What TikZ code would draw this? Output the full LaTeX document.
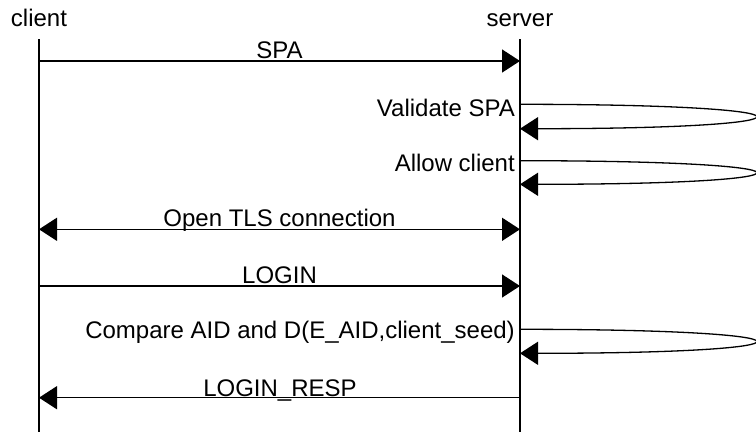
\documentclass[tikz,border=0pt]{standalone}
\usepackage{fontspec}
\setmainfont{Liberation Sans}
\usetikzlibrary{arrows.meta}
\tikzset{
  lbl/.style={inner sep=0pt, font=\fontsize{24}{28}\selectfont},
  lifeline/.style={line width=1.8pt},
  msg/.style={line width=1.5pt, -{Triangle[length=18pt,width=23pt]}},
  msgboth/.style={line width=1.5pt, {Triangle[length=18pt,width=23pt]}-{Triangle[length=18pt,width=23pt]}},
  selfmsg/.style={line width=1.3pt, -{Triangle[length=18pt,width=23pt]}},
}
\begin{document}
\begin{tikzpicture}[x=1pt,y=-1pt]
\useasboundingbox (0,0) rectangle (756,432);
\def\cx{39}
\def\sx{520}

% participants
\node[lbl, anchor=base] (client) at (\cx,26) {client};
\node[lbl, anchor=base] (server) at (\sx,26) {server};
\coordinate (ctop) at (\cx,39);
\coordinate (cbot) at (\cx,432);
\coordinate (stop) at (\sx,39);
\coordinate (sbot) at (\sx,432);
\draw[lifeline] (ctop) -- (cbot);
\draw[lifeline] (stop) -- (sbot);

% SPA
\coordinate (c1) at (\cx,61);
\coordinate (s1) at (\sx,61);
\draw[msg] (c1) -- (s1);
\node[lbl, anchor=base] (spa) at (279.5,58) {SPA};

% Validate SPA
\coordinate (v1) at (\sx,104.3);
\coordinate (v2) at (\sx,128.7);
\draw[selfmsg] (v1) .. controls (833,104.3) and (833,128.7) .. (v2);
\node[lbl, anchor=base east] (validate) at (515,116) {Validate SPA};

% Allow client
\coordinate (a1) at (\sx,160.7);
\coordinate (a2) at (\sx,184.3);
\draw[selfmsg] (a1) .. controls (833,160.7) and (833,184.3) .. (a2);
\node[lbl, anchor=base east] (allow) at (515,171.7) {Allow client};

% Open TLS connection
\coordinate (c2) at (\cx,229.3);
\coordinate (s2) at (\sx,229.3);
\draw[msgboth] (c2) -- (s2);
\node[lbl, anchor=base] (tls) at (279.5,226.5) {Open TLS connection};

% LOGIN
\coordinate (c3) at (\cx,286);
\coordinate (s3) at (\sx,286);
\draw[msg] (c3) -- (s3);
\node[lbl, anchor=base] (login) at (279.5,283) {LOGIN};

% Compare
\coordinate (k1) at (\sx,329.3);
\coordinate (k2) at (\sx,353.3);
\draw[selfmsg] (k1) .. controls (833,329.3) and (833,353.3) .. (k2);
\node[lbl, anchor=base east] (compare) at (515,338.3) {Compare AID and D(E\_AID,client\_seed)};

% LOGIN_RESP
\coordinate (s4) at (\sx,397.7);
\coordinate (c4) at (\cx,397.7);
\draw[msg] (s4) -- (c4);
\node[lbl, anchor=base] (resp) at (280,396) {LOGIN\_RESP};
\end{tikzpicture}
\end{document}
